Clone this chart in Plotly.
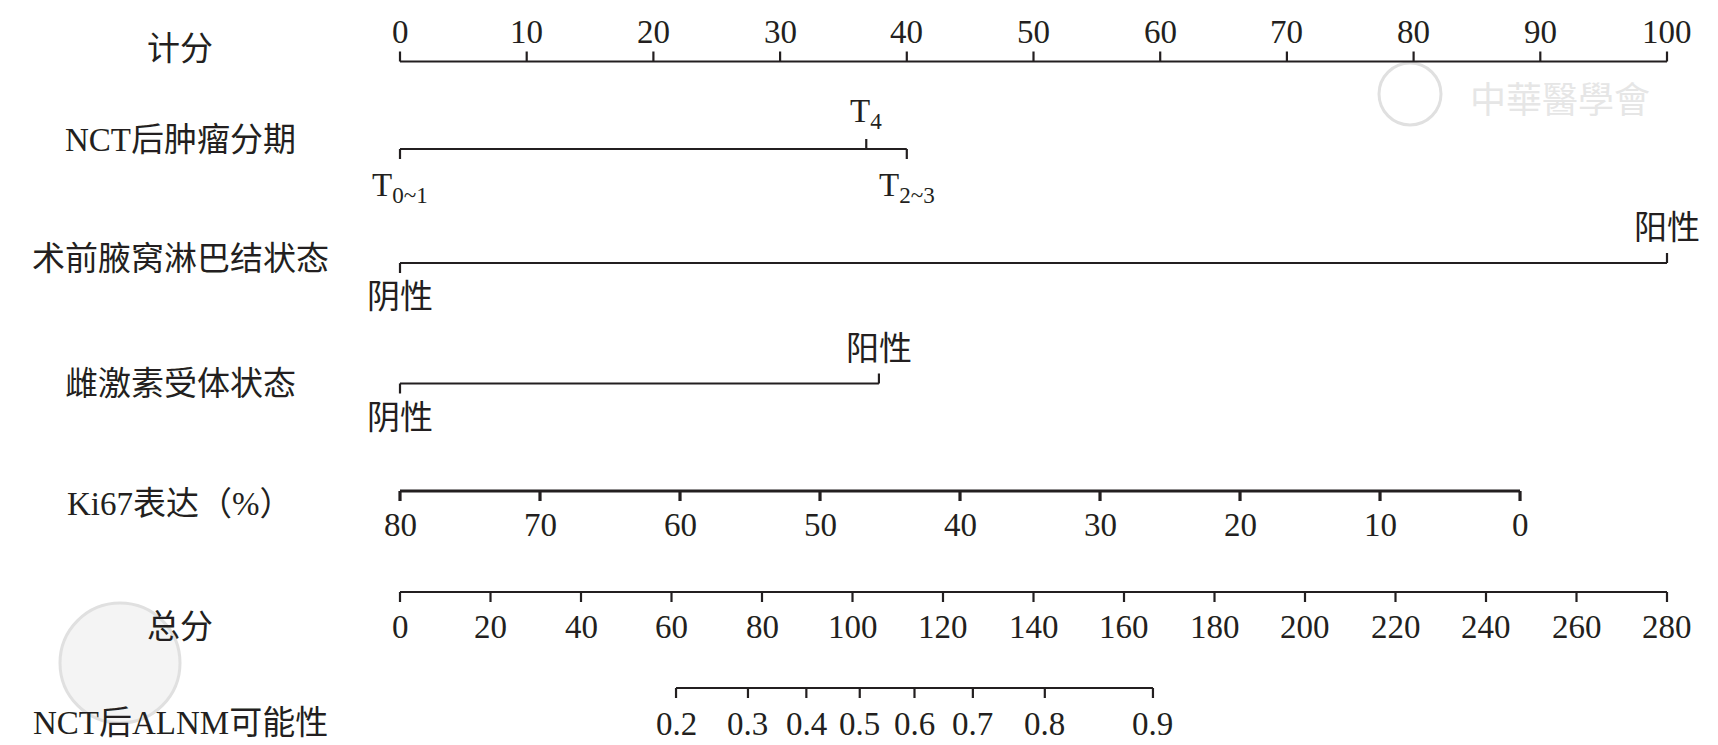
import plotly.graph_objects as go

# ---------------- data ----------------
row_labels = ["计分", "NCT后肿瘤分期", "术前腋窝淋巴结状态", "雌激素受体状态",
              "Ki67表达（%）", "总分", "NCT后ALNM可能性"]

points_ticks = [0, 10, 20, 30, 40, 50, 60, 70, 80, 90, 100]

tstage_labels = ["T<sub>0~1</sub>", "T<sub>4</sub>", "T<sub>2~3</sub>"]
tstage_points = [0, 36.8, 40]

ln_labels = ["阴性", "阳性"]
ln_points = [0, 100]

er_labels = ["阴性", "阳性"]
er_points = [0, 37.8]

ki67_values = [80, 70, 60, 50, 40, 30, 20, 10, 0]
ki67_points_at_zero = 88.4   # points given for Ki67 = 0 %
ki67_top = 80                # Ki67 value giving 0 points

total_ticks = [0, 20, 40, 60, 80, 100, 120, 140, 160, 180, 200, 220, 240, 260, 280]
total_max = 280

prob_values = [0.2, 0.3, 0.4, 0.5, 0.6, 0.7, 0.8, 0.9]
prob_total_points = [61.0, 76.9, 89.8, 101.6, 113.7, 126.6, 142.5, 166.4]

# ---------------- layout constants ----------------
W, H = 1718, 745
PX0, PX100 = 400, 1667    # page pixels of points 0 and 100
ppp = (PX100 - PX0) / 100.0
xr = [-PX0 / ppp, (W - PX0) / ppp]
yr = [H, 0]               # y data == page pixel

ROW_Y = [61.5, 149, 263, 383.5, 491, 592, 688]
TICK = 10
INK = "#231f20"
FONT = "Liberation Serif, Times New Roman, Noto Sans CJK SC, serif"
FS = 33

fig = go.Figure()
annotations = []
shapes = []


def axis_trace(x0, x1, y, tick_xs, tick_dirs, width=2.2):
    xs, ys = [x0, x1, None], [y, y, None]
    for tx, d in zip(tick_xs, tick_dirs):
        xs += [tx, tx, None]
        ys += [y, y + d * TICK, None]
    fig.add_trace(go.Scatter(x=xs, y=ys, mode="lines",
                             line=dict(color=INK, width=width),
                             hoverinfo="skip", showlegend=False))


def label(x, y, text, size=FS):
    annotations.append(dict(x=x, y=y, xref="x", yref="y", text=text,
                            showarrow=False, xanchor="center", yanchor="middle",
                            font=dict(family=FONT, size=size, color=INK)))


# faint watermarks (drawn below everything)
def px_to_x(px):
    return (px - PX0) / ppp

for cx, cy, r, fill in [(1410, 94, 31, "rgba(0,0,0,0)"), (120, 663, 60, "#f4f4f4")]:
    shapes.append(dict(type="circle", xref="x", yref="y", layer="below",
                       x0=px_to_x(cx - r), x1=px_to_x(cx + r), y0=cy - r, y1=cy + r,
                       line=dict(color="#e0e0e0", width=3), fillcolor=fill))
annotations.append(dict(x=1560 / W, y=97, xref="paper", yref="y", text="中華醫學會",
                        showarrow=False, xanchor="center", yanchor="middle",
                        font=dict(family="Noto Sans CJK TC", size=36, color="#e6e6e6")))

# Points axis (ticks up, labels above)
y = ROW_Y[0]
axis_trace(min(points_ticks), max(points_ticks), y, points_ticks, [-1] * len(points_ticks))
for v in points_ticks:
    label(v, y - 30, str(v))

# T stage
y = ROW_Y[1]
dirs = [1, -1, 1]
axis_trace(min(tstage_points), max(tstage_points), y, tstage_points, dirs)
for p, t, d in zip(tstage_points, tstage_labels, dirs):
    label(p, y + (38 if d > 0 else -36), t)

# Lymph node status
y = ROW_Y[2]
dirs = [1, -1]
axis_trace(min(ln_points), max(ln_points), y, ln_points, dirs)
for p, t, d in zip(ln_points, ln_labels, dirs):
    label(p, y + (34 if d > 0 else -35), t)

# ER status
y = ROW_Y[3]
axis_trace(min(er_points), max(er_points), y, er_points, dirs)
for p, t, d in zip(er_points, er_labels, dirs):
    label(p, y + (34 if d > 0 else -35), t)

# Ki67 (reversed scale)
y = ROW_Y[4]
ki_pts = [(ki67_top - v) * ki67_points_at_zero / ki67_top for v in ki67_values]
axis_trace(min(ki_pts), max(ki_pts), y, ki_pts, [1] * len(ki_pts), width=3.2)
for p, v in zip(ki_pts, ki67_values):
    label(p, y + 34, str(v))

# Total points
y = ROW_Y[5]
tot_pts = [v * 100.0 / total_max for v in total_ticks]
axis_trace(min(tot_pts), max(tot_pts), y, tot_pts, [1] * len(tot_pts))
for p, v in zip(tot_pts, total_ticks):
    label(p, y + 35, str(v))

# Probability
y = ROW_Y[6]
pr_pts = [v * 100.0 / total_max for v in prob_total_points]
axis_trace(min(pr_pts), max(pr_pts), y, pr_pts, [1] * len(pr_pts))
for p, v in zip(pr_pts, prob_values):
    label(p, y + 36, f"{v:.1f}")

# Row labels (x = page pixel 180)
label_y = [49, 140, 259, 383.5, 504, 627, 723]
for t, ly in zip(row_labels, label_y):
    annotations.append(dict(x=180 / W, y=ly, xref="paper", yref="y", text=t,
                            showarrow=False, xanchor="center", yanchor="middle",
                            font=dict(family=FONT, size=FS, color=INK)))

fig.update_layout(
    width=W, height=H,
    margin=dict(l=0, r=0, t=0, b=0),
    paper_bgcolor="white", plot_bgcolor="white",
    xaxis=dict(range=xr, visible=False, fixedrange=True),
    yaxis=dict(range=yr, visible=False, fixedrange=True),
    annotations=annotations,
    shapes=shapes,
    showlegend=False,
)

fig.write_html("out.html",
               config={"displayModeBar": False, "staticPlot": True},
               post_script="document.body.style.margin='0';document.body.style.overflow='hidden';")
